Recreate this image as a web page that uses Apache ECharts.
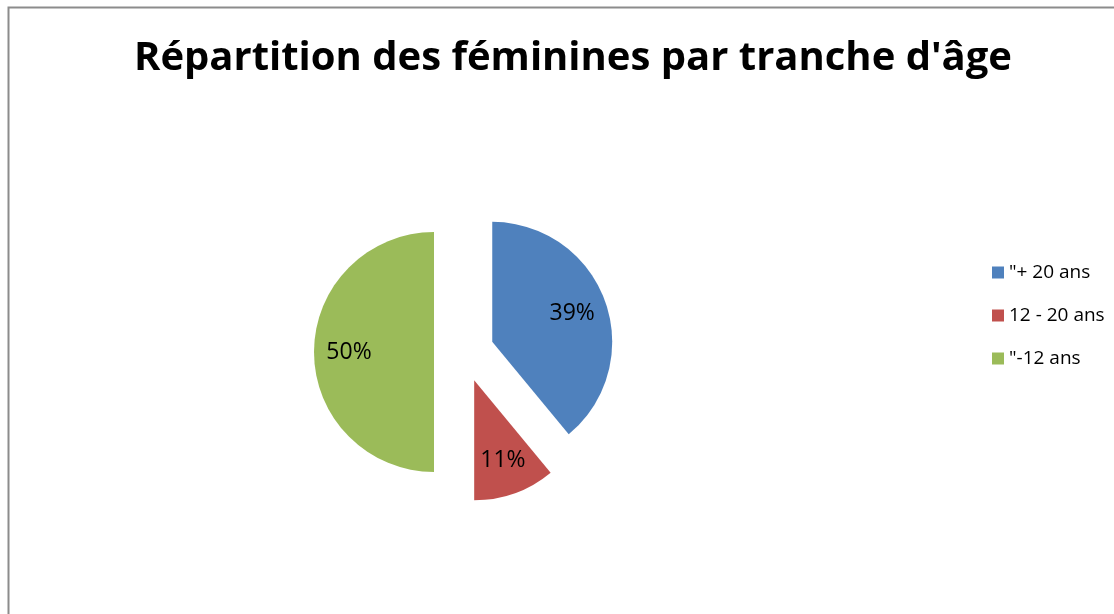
<!DOCTYPE html>
<html>
<head>
<meta charset="utf-8">
<script src="https://cdn.jsdelivr.net/npm/echarts@6/dist/echarts.min.js"></script>
<style>
  html, body { margin: 0; padding: 0; background: #fff; }
  #main { width: 1114px; height: 614px; }
</style>
</head>
<body>
<div id="main"></div>
<script>
// données du graphique
var categories = ['"+ 20 ans', '12 - 20 ans', '"-12 ans'];
var values = [39, 11, 50];
var colors = ['#4F81BD', '#C0504D', '#9BBB59'];

var pieData = categories.map(function (name, i) {
    return { name: name, value: values[i], selected: true, itemStyle: { color: colors[i] } };
});
var labelData = categories.map(function (name, i) {
    return { name: name, value: values[i], selected: true };
});

var myChart = echarts.init(document.getElementById('main'));

var option = {
    animation: false,
    backgroundColor: '#fff',
    title: {
        text: "Répartition des féminines par tranche d'âge",
        left: 568,
        top: 34,
        textAlign: 'center',
        textStyle: {
            fontFamily: 'Open Sans',
            fontWeight: 'bold',
            fontSize: 40,
            color: '#000'
        }
    },
    legend: {
        orient: 'vertical',
        left: 987,
        top: 258,
        itemWidth: 12,
        itemHeight: 12,
        itemGap: 24,
        icon: 'rect',
        data: categories,
        textStyle: {
            fontFamily: 'Open Sans',
            fontSize: 19,
            lineHeight: 19,
            color: '#000'
        }
    },
    graphic: [{
        type: 'rect',
        left: 6,
        top: 5,
        shape: { width: 1200, height: 700 },
        style: { fill: 'none', stroke: '#8c8c8c', lineWidth: 2 },
        silent: true
    }],
    series: [
        {
            name: 'tranche',
            type: 'pie',
            center: [464, 352],
            radius: [0, 120],
            startAngle: 90,
            selectedMode: 'multiple',
            selectedOffset: 30,
            percentPrecision: 0,
            itemStyle: { borderWidth: 0 },
            select: { itemStyle: { borderWidth: 0 } },
            emphasis: { disabled: true },
            label: { show: false },
            labelLine: { show: false },
            data: pieData
        },
        {
            // étiquettes placées plus loin du centre
            name: 'etiquettes',
            type: 'pie',
            silent: true,
            center: [464, 352],
            radius: [0, 164],
            startAngle: 90,
            selectedMode: 'multiple',
            selectedOffset: 30,
            percentPrecision: 0,
            itemStyle: { color: 'rgba(0,0,0,0)', borderWidth: 0 },
            select: { itemStyle: { color: 'rgba(0,0,0,0)', borderWidth: 0 } },
            emphasis: { disabled: true },
            label: {
                show: true,
                position: 'inside',
                formatter: '{d}%',
                fontFamily: 'Open Sans',
                fontSize: 23,
                color: '#000'
            },
            labelLine: { show: false },
            data: labelData
        }
    ]
};

myChart.setOption(option);
</script>
</body>
</html>
